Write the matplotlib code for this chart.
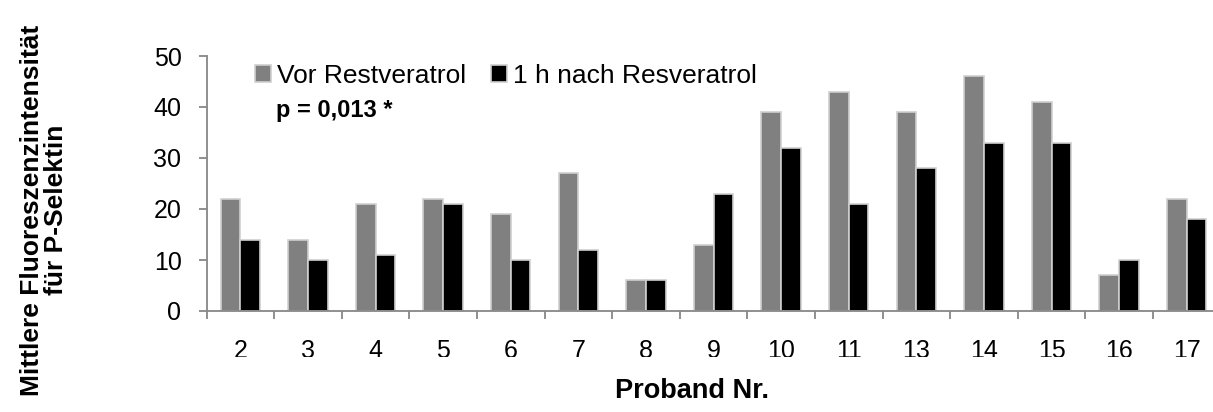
import matplotlib
matplotlib.use("Agg")
import matplotlib.pyplot as plt
import numpy as np
from matplotlib.transforms import Bbox, TransformedBbox

plt.rcParams['font.family'] = ['Liberation Sans', 'DejaVu Sans']

probanden = ['2', '3', '4', '5', '6', '7', '8', '9', '10', '11', '13', '14', '15', '16', '17']
vor = [22, 14, 21, 22, 19, 27, 6, 13, 39, 43, 39, 46, 41, 7, 22]
nach = [14, 10, 11, 21, 10, 12, 6, 23, 32, 21, 28, 33, 33, 10, 18]

W, H = 1213, 412
fig = plt.figure(figsize=(W / 100, H / 100), dpi=100)
# axes run a little past the right edge, so the last group is cut off
ax = fig.add_axes([206.5 / W, 1 - 311 / H, 1014 / W, 255 / H])

x = np.arange(len(probanden))
bw = 0.29
edge = '#cfcfcf'
b1 = ax.bar(x - bw / 2, vor, bw, color='#808080', edgecolor=edge, linewidth=1.2,
            label='Vor Restveratrol')
b2 = ax.bar(x + bw / 2, nach, bw, color='black', edgecolor=edge, linewidth=1.2,
            label='1 h nach Resveratrol')

ax.set_xlim(-0.5, len(probanden) - 0.5)
ax.set_ylim(0, 50)
ax.set_yticks(range(0, 51, 10))
ax.set_xticks(x)
ax.set_xticklabels(probanden)
ax.set_xticks(np.arange(-0.5, len(probanden), 1), minor=True)

for s in ['top', 'right']:
    ax.spines[s].set_visible(False)
for s in ['left', 'bottom']:
    ax.spines[s].set_color('#878787')
    ax.spines[s].set_linewidth(1.3)

ax.tick_params(axis='y', which='major', direction='out', length=6, width=1.3,
               color='#878787', labelsize=18, pad=12)
ax.tick_params(axis='x', which='major', length=0, labelsize=18, pad=20.5)
ax.tick_params(axis='x', which='minor', direction='out', length=6, width=1.3,
               color='#878787')

# the category numbers are cut off along the bottom
clip = TransformedBbox(Bbox([[0, (H - 357) / H], [1.1, 1]]), fig.transFigure)
for lab in ax.get_xticklabels():
    lab.set_clip_box(clip)
    lab.set_clip_on(True)

fig.text(692 / W, 1 - 391 / H, 'Proband Nr.', ha='center', va='center',
         fontsize=19.5, fontweight='bold')
fig.text(44 / W, 1 - 210 / H, 'Mittlere Fluoreszenzintensität\nfür P-Selektin',
         ha='center', va='center', rotation=90, fontsize=19, fontweight='bold',
         linespacing=0.95)

ax.legend(handles=[b1, b2], loc='upper left', bbox_to_anchor=(255 / W, 1 - 64 / H),
          bbox_transform=fig.transFigure, ncol=2, frameon=False, fontsize=19,
          handlelength=0.6, handleheight=0.6, handletextpad=0.23,
          columnspacing=0.95, borderaxespad=0, borderpad=0)
fig.text(276 / W, 1 - 110 / H, 'p = 0,013 *', ha='left', va='center',
         fontsize=17, fontweight='bold')

fig.savefig('out.png', dpi=100)
